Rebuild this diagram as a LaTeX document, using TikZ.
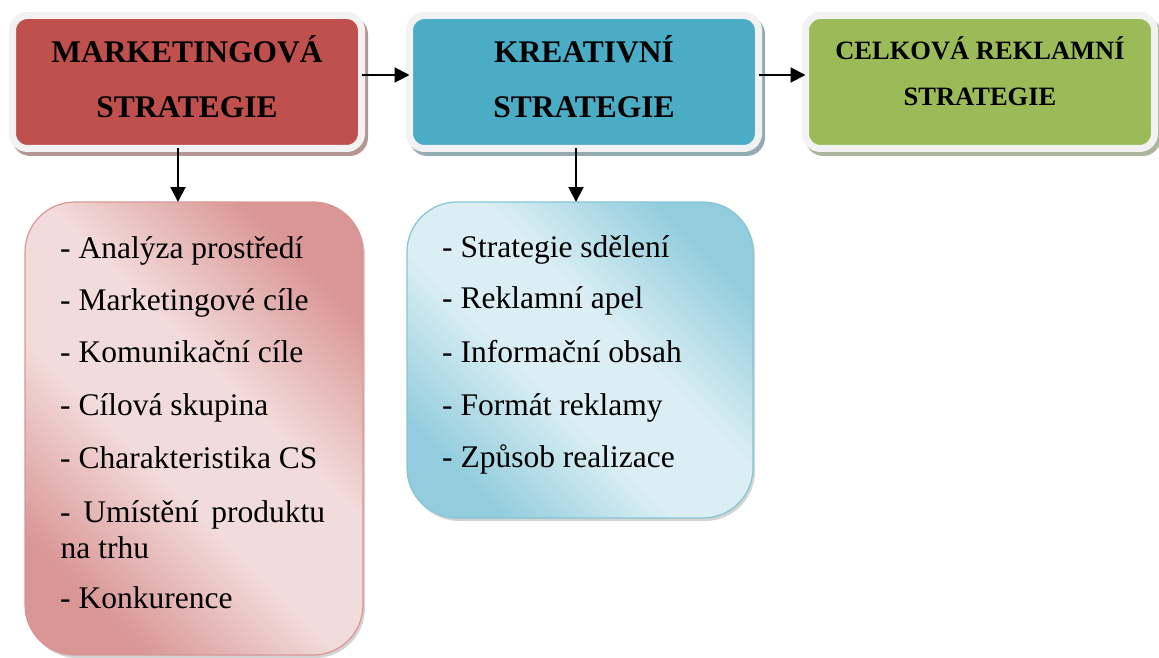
\documentclass[tikz,border=0pt]{standalone}
\usepackage{fontspec}
\setmainfont{Liberation Serif}
\usetikzlibrary{arrows.meta,shadows}
\definecolor{redfill}{HTML}{C0504D}
\definecolor{tealfill}{HTML}{4BACC6}
\definecolor{greenfill}{HTML}{9BBB59}
\definecolor{framegray}{HTML}{F2F2F2}
\definecolor{redshade}{HTML}{B59494}
\definecolor{tealshade}{HTML}{93ACB3}
\definecolor{greenshade}{HTML}{AAB59A}
\definecolor{pinkdark}{HTML}{D99694}
\definecolor{pinklight}{HTML}{F2DCDB}
\definecolor{bluedark}{HTML}{93CDDD}
\definecolor{bluelight}{HTML}{DAEEF3}
\pgfdeclareverticalshading{pinkband}{100bp}{color(0bp)=(pinkdark); color(25bp)=(pinkdark);
  color(43bp)=(pinklight); color(57bp)=(pinklight); color(75bp)=(pinkdark); color(100bp)=(pinkdark)}
\pgfdeclareverticalshading{blueband}{100bp}{color(0bp)=(bluedark); color(25bp)=(bluedark);
  color(43bp)=(bluelight); color(57bp)=(bluelight); color(75bp)=(bluedark); color(100bp)=(bluedark)}
\tikzset{
  hdrbox/.style={draw=framegray, line width=7pt, rounded corners=15pt,
    minimum width=349pt, minimum height=133pt, inner sep=0pt, outer sep=0pt,
    align=center, text=black,
    preaction={draw=#1, fill=#1, transform canvas={shift={(3pt,-4pt)}}}},
  listbox/.style={line width=1.2pt, rounded corners=50pt, inner sep=0pt, outer sep=0pt,
    shading=#1, shading angle=-45,
    drop shadow={shadow xshift=2pt, shadow yshift=-3pt, opacity=0.35}},
  listitem/.style={anchor=base west, inner sep=0pt,
    font=\fontsize{31.5}{36}\selectfont},
  flow/.style={line width=2pt, -{Triangle[length=15pt,width=15pt]}}
}
\begin{document}
\begin{tikzpicture}[x=1pt,y=-1pt]
  \useasboundingbox (0,0) rectangle (1159,658);

  % header boxes
  \node[hdrbox=redshade, fill=redfill, text depth=12pt,
    font=\bfseries\fontsize{31.5}{55}\selectfont] (mkt) at (187,82) {MARKETINGOVÁ\\STRATEGIE};
  \node[hdrbox=tealshade, fill=tealfill, text depth=12pt,
    font=\bfseries\fontsize{31.5}{55}\selectfont] (kre) at (584,82) {KREATIVNÍ\\STRATEGIE};
  \node[hdrbox=greenshade, fill=greenfill, text depth=22pt,
    font=\bfseries\fontsize{26.5}{46}\selectfont] (cel) at (980,82) {CELKOVÁ REKLAMNÍ\\STRATEGIE};

  % list boxes
  \node[listbox=pinkband, draw=pinkdark,
    minimum width=338pt, minimum height=453pt] (mktlist) at (194,428.5) {};
  \node[listbox=blueband, draw=bluedark!90!teal,
    minimum width=346pt, minimum height=316pt] (krelist) at (580,360) {};

  % arrows
  \draw[flow] ([yshift=7pt]mkt.east) -- ([yshift=7pt]kre.west);
  \draw[flow] ([yshift=7pt]kre.east) -- ([yshift=7pt]cel.west);
  \draw[flow] ([xshift=-9pt]mkt.south) -- ([xshift=-9pt]mkt.south |- mktlist.north);
  \draw[flow] ([xshift=-8pt]kre.south) -- ([xshift=-8pt]kre.south |- krelist.north);

  % items
  \node[listitem] (mk1) at (60,258) {- Analýza prostředí};
  \node[listitem] (mk2) at (60,310) {- Marketingové cíle};
  \node[listitem] (mk3) at (60,362) {- Komunikační cíle};
  \node[listitem] (mk4) at (60,415) {- Cílová skupina};
  \node[listitem] (mk5) at (60,468) {- Charakteristika CS};
  \node[listitem] (mk6) at (60,522) {\makebox[265pt][s]{- Umístění produktu}};
  \node[listitem] (mk6b) at (60.5,558) {na trhu};
  \node[listitem] (mk7) at (60,608) {- Konkurence};

  \node[listitem] (kr1) at (442,257) {- Strategie sdělení};
  \node[listitem] (kr2) at (442,308) {- Reklamní apel};
  \node[listitem] (kr3) at (442,362) {- Informační obsah};
  \node[listitem] (kr4) at (442,415) {- Formát reklamy};
  \node[listitem] (kr5) at (442,467) {- Způsob realizace};
\end{tikzpicture}
\end{document}
